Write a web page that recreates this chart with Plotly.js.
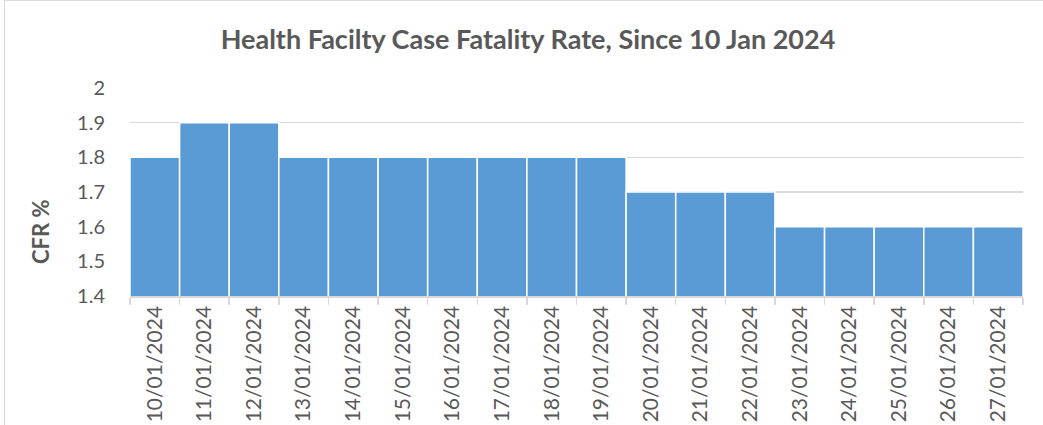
<!DOCTYPE html>
<html><head><meta charset="utf-8">
<script src="https://cdn.plot.ly/plotly-3.0.1.min.js"></script>
<style>body{margin:0;background:#fff}#wrap{position:relative;width:1043px;height:425px;overflow:hidden}#frame{position:absolute;left:4px;top:0;width:1100px;height:500px;border:1px solid #d9d9d9;box-sizing:border-box;pointer-events:none}</style>
</head><body>
<div id="wrap"><div id="chart" style="width:1043px;height:425px"></div><div id="frame"></div></div>
<script>
const dates = ["10/01/2024","11/01/2024","12/01/2024","13/01/2024","14/01/2024","15/01/2024","16/01/2024","17/01/2024","18/01/2024","19/01/2024","20/01/2024","21/01/2024","22/01/2024","23/01/2024","24/01/2024","25/01/2024","26/01/2024","27/01/2024"];
const cfr = [1.8,1.9,1.9,1.8,1.8,1.8,1.8,1.8,1.8,1.8,1.7,1.7,1.7,1.6,1.6,1.6,1.6,1.6];
const titleText = "Health Facilty Case Fatality Rate, Since 10 Jan 2024";
const yTitle = "CFR %";
const font = "Lato, 'Open Sans', sans-serif";
Plotly.newPlot('chart',[{
  type:'bar', x:dates, y:cfr,
  marker:{color:'#5b9bd5', line:{color:'#ffffff', width:1.5}}
}],{
  width:1043,height:425,
  margin:{l:130,r:20,t:88,b:129},
  paper_bgcolor:'rgba(0,0,0,0)',plot_bgcolor:'#fff',
  bargap:0,
  title:{text:'<b>'+titleText+'</b>',x:528/1043,xanchor:'center',y:1-40/425,yanchor:'middle',font:{family:font,size:27,color:'#595959'}},
  xaxis:{type:'category',tickangle:-90,tickfont:{family:font,size:21,color:'#595959'},showline:true,linecolor:'#d9d9d9',linewidth:1.5,ticks:'outside',tickson:'boundaries',ticklen:7,tickcolor:'#d9d9d9',tickwidth:1.5,automargin:false,showgrid:false},
  yaxis:{range:[1.4,2.0],dtick:0.1,tick0:1.4,tickformat:'.1~f',tickfont:{family:font,size:20,color:'#595959'},showgrid:true,gridcolor:'#d9d9d9',gridwidth:1.5,zeroline:false,ticks:'outside',ticklen:20,tickcolor:'rgba(0,0,0,0)',automargin:false},
  annotations:[{text:'<b>'+yTitle+'</b>',xref:'paper',yref:'paper',x:-(130-40)/893,y:(296-232)/208,xanchor:'center',yanchor:'middle',textangle:-90,showarrow:false,font:{family:font,size:22,color:'#595959'}}],
  showlegend:false
},{displayModeBar:false,staticPlot:true});
</script>
</body></html>
